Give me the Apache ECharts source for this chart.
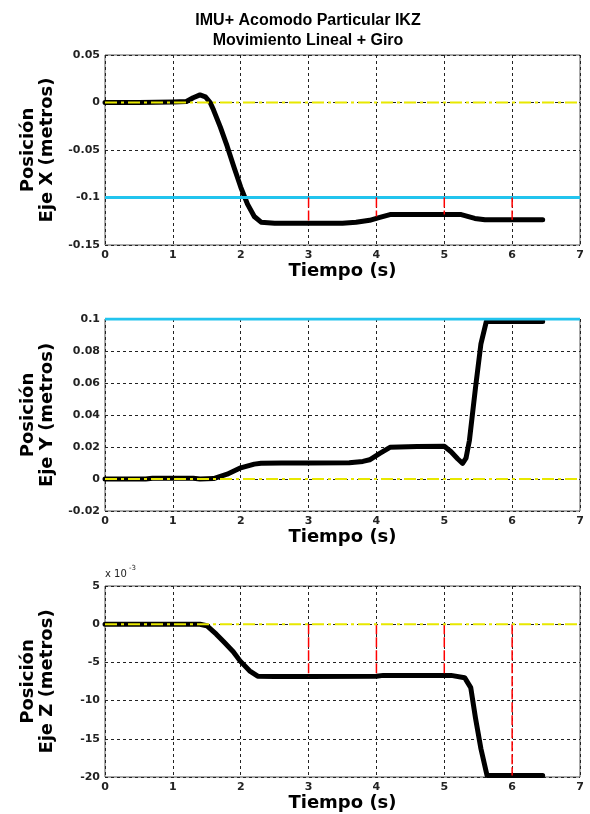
<!DOCTYPE html>
<html>
<head>
<meta charset="utf-8">
<script src="https://cdn.jsdelivr.net/npm/echarts@6/dist/echarts.min.js"></script>
<style>
html,body{margin:0;padding:0;background:#fff;}
#chart{width:590px;height:814px;}
</style>
</head>
<body>
<div id="chart"></div>
<script>
// ---- Data ----
const titleLines = ['IMU+ Acomodo Particular IKZ', 'Movimiento Lineal + Giro'];
const xAxisName = 'Tiempo (s)';
const yNames = ['Posición\nEje X (metros)', 'Posición\nEje Y (metros)', 'Posición\nEje Z (metros)'];

// Panel X (metres)
const tX = [0, 0.5, 1.0, 1.2, 1.3, 1.4, 1.48, 1.55, 1.6, 1.7, 1.8, 1.9, 2.0, 2.1, 2.2, 2.3, 2.5, 3.0, 3.5, 3.7, 3.9, 4.05, 4.2, 4.5, 5.0, 5.25, 5.45, 5.6, 6.0, 6.45];
const posX = [0, 0, 0.0005, 0.001, 0.005, 0.008, 0.006, 0.0, -0.008, -0.026, -0.046, -0.068, -0.089, -0.107, -0.12, -0.126, -0.127, -0.127, -0.127, -0.126, -0.124, -0.121, -0.118, -0.118, -0.118, -0.118, -0.122, -0.1235, -0.1235, -0.1235];
const refX = -0.1;          // cyan reference line
const errTimes = [3, 4, 5, 6];
const errEndX = [-0.127, -0.120, -0.118, -0.1235];

// Panel Y (metres)
const tY = [0, 0.6, 0.7, 1.3, 1.4, 1.6, 1.8, 2.0, 2.2, 2.3, 2.6, 3.0, 3.6, 3.8, 3.9, 4.05, 4.2, 4.6, 5.0, 5.1, 5.2, 5.27, 5.32, 5.37, 5.46, 5.54, 5.62, 6.0, 6.45];
const posY = [0, 0, 0.0005, 0.0005, 0, 0.0003, 0.003, 0.007, 0.0093, 0.0098, 0.01, 0.01, 0.0102, 0.011, 0.012, 0.016, 0.0198, 0.0203, 0.0205, 0.017, 0.0125, 0.0098, 0.013, 0.024, 0.057, 0.0845, 0.0985, 0.0985, 0.0985];
const refY = 0.1;

// Panel Z (x 10^-3 metres)
const tZ = [0, 1.0, 1.4, 1.5, 1.64, 1.75, 1.89, 1.99, 2.13, 2.25, 2.5, 3.0, 4.0, 4.1, 5.1, 5.3, 5.39, 5.46, 5.54, 5.63, 6.0, 6.45];
const posZ = [0, 0, 0, -0.2, -1.3, -2.3, -3.6, -4.8, -6.1, -6.8, -6.85, -6.85, -6.8, -6.7, -6.7, -7.0, -8.3, -12.3, -16.3, -19.8, -19.8, -19.8];
const refZ = 0;
const errEndZ = [-6.85, -6.8, -6.7, -19.8];

const zeroLevel = 0;
const xTicks = {min: 0, max: 7, interval: 1};
const yTicksX = {min: -0.15, max: 0.05, interval: 0.05};
const yTicksY = {min: -0.02, max: 0.1, interval: 0.02};
const yTicksZ = {min: -20, max: 5, interval: 5};
const zScaleLabel = ['x 10', '-3'];

// ---- Chart ----
const FONT = 'DejaVu Sans';
const grids = [
  {left: 105, top: 55, width: 475, height: 190},
  {left: 105, top: 319, width: 475, height: 192},
  {left: 105, top: 586, width: 475, height: 191}
].map(g => Object.assign({show: true, borderColor: '#555', borderWidth: 1, backgroundColor: '#fff'}, g));

const fmt = v => String(+(+v).toFixed(4));

const xAxes = [0, 1, 2].map(gi => ({
  type: 'value', gridIndex: gi, min: xTicks.min, max: xTicks.max, interval: xTicks.interval,
  axisLine: {show: false}, axisTick: {show: false},
  splitLine: {show: true, lineStyle: {color: '#222', type: [3, 3], width: 1}},
  axisLabel: {fontFamily: FONT, fontWeight: 'bold', fontSize: 11, color: '#222', margin: 5, formatter: fmt},
  name: xAxisName, nameLocation: 'middle', nameGap: 14,
  nameTextStyle: {fontFamily: FONT, fontWeight: 'bold', fontSize: 18, color: '#000', verticalAlign: 'top'}
}));

const yTicks = [yTicksX, yTicksY, yTicksZ];
const yAxes = [0, 1, 2].map(gi => ({
  type: 'value', gridIndex: gi, min: yTicks[gi].min, max: yTicks[gi].max, interval: yTicks[gi].interval,
  axisLine: {show: false}, axisTick: {show: false},
  splitLine: {show: true, lineStyle: {color: '#222', type: [3, 3], width: 1}},
  axisLabel: {fontFamily: FONT, fontWeight: 'bold', fontSize: 11, color: '#222', margin: 5, formatter: fmt},
  name: yNames[gi], nameLocation: 'middle', nameGap: 48,
  nameTextStyle: {fontFamily: FONT, fontWeight: 'bold', fontSize: 18, color: '#000', lineHeight: 19, align: 'center'}
}));

const zip = (a, b) => a.map((v, i) => [v, b[i]]);
const series = [];
function curve(gi, t, v) {
  series.push({type: 'line', xAxisIndex: gi, yAxisIndex: gi, data: zip(t, v), showSymbol: false, symbol: 'none',
    smooth: false, z: 3,
    lineStyle: {color: '#000', width: 5, cap: 'round', join: 'round'}});
}
function hline(gi, y, color, width, type, z) {
  series.push({type: 'line', xAxisIndex: gi, yAxisIndex: gi, data: [[xTicks.min, y], [xTicks.max, y]], symbol: 'none', z: z,
    lineStyle: {color: color, width: width, type: type}});
}
function errs(gi, from, ends) {
  errTimes.forEach((t, i) => {
    series.push({type: 'line', xAxisIndex: gi, yAxisIndex: gi, data: [[t, from], [t, ends[i]]], symbol: 'none', z: 4,
      lineStyle: {color: '#ff0000', width: 1.5, type: [10, 3]}});
  });
}
const yellowDash = [12, 4, 3, 4];

curve(0, tX, posX);
hline(0, refX, '#22c4ee', 3, 'solid', 4);
errs(0, refX, errEndX);
hline(0, zeroLevel, '#e8e800', 2, yellowDash, 5);

curve(1, tY, posY);
hline(1, refY, '#22c4ee', 3, 'solid', 4);
hline(1, zeroLevel, '#e8e800', 2, yellowDash, 5);

curve(2, tZ, posZ);
errs(2, refZ, errEndZ);
hline(2, zeroLevel, '#e8e800', 2, yellowDash, 5);

const option = {
  animation: false,
  backgroundColor: '#fff',
  title: {
    text: titleLines.join('\n'), left: 303, top: 6, textAlign: 'center',
    textStyle: {fontFamily: 'Liberation Sans', fontWeight: 'bold', fontSize: 16, lineHeight: 20, color: '#000'}
  },
  grid: grids,
  xAxis: xAxes,
  yAxis: yAxes,
  series: series,
  graphic: [
    {type: 'text', x: 105, y: 569, style: {text: zScaleLabel[0], font: '10px "DejaVu Sans"', fill: '#222'}},
    {type: 'text', x: 129, y: 565, style: {text: zScaleLabel[1], font: '7px "DejaVu Sans"', fill: '#222'}}
  ]
};

const chart = echarts.init(document.getElementById('chart'), null, {renderer: 'canvas'});
chart.setOption(option);
</script>
</body>
</html>
